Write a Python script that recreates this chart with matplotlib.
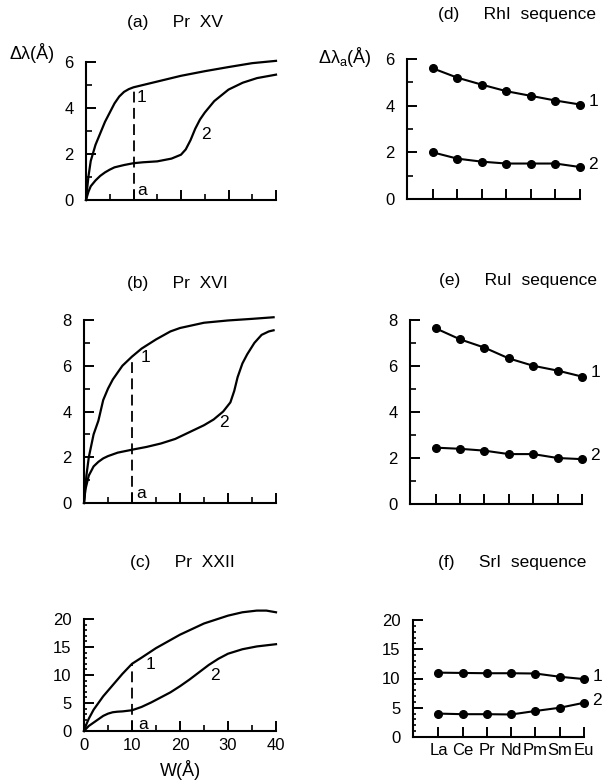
import numpy as np
import matplotlib
matplotlib.use("Agg")
import matplotlib.pyplot as plt
from matplotlib.ticker import MultipleLocator

plt.rcParams['font.family'] = ['Liberation Sans', 'DejaVu Sans']
plt.rcParams['font.size'] = 12

# ---- data: left column, delta lambda vs W ----
a1_w = [0, 0.5, 1, 2, 3, 4, 5, 6, 7, 8, 9, 10, 12, 15, 20, 25, 30, 35, 40]
a1_y = [0, 1.0, 1.7, 2.4, 2.9, 3.4, 3.8, 4.2, 4.5, 4.7, 4.82, 4.9, 5.0, 5.15, 5.4, 5.6, 5.78, 5.95, 6.05]
a2_w = [0, 0.5, 1, 2, 3, 4, 5, 6, 8, 10, 12, 15, 18, 20, 21, 22, 23, 24, 25, 27, 30, 33, 36, 40]
a2_y = [0, 0.35, 0.6, 0.85, 1.05, 1.2, 1.32, 1.42, 1.52, 1.6, 1.64, 1.68, 1.8, 1.97, 2.2, 2.6, 3.1, 3.5, 3.8, 4.3, 4.8, 5.1, 5.3, 5.45]

b1_w = [0, 0.5, 1, 2, 3, 4, 5, 6, 7, 8, 10, 12, 15, 18, 20, 25, 30, 35, 39.5]
b1_y = [0, 1.2, 2.0, 3.0, 3.6, 4.5, 5.0, 5.4, 5.7, 6.0, 6.4, 6.75, 7.15, 7.5, 7.65, 7.88, 7.98, 8.05, 8.12]
b2_w = [0, 0.3, 1, 2, 3, 4, 5, 7, 10, 13, 16, 19, 22, 25, 27, 29, 30.5, 31.3, 32, 33, 34, 35.5, 37, 38.5, 39.5]
b2_y = [0, 0.6, 1.2, 1.6, 1.8, 1.95, 2.05, 2.2, 2.33, 2.45, 2.6, 2.8, 3.1, 3.4, 3.65, 4.0, 4.4, 4.9, 5.5, 6.1, 6.5, 7.0, 7.35, 7.5, 7.55]

c1_w = [0, 0.5, 1, 2, 3, 4, 5, 6, 7, 8, 10, 12, 15, 20, 25, 30, 33, 36, 38, 40]
c1_y = [0, 1.2, 2.2, 3.8, 5.0, 6.2, 7.2, 8.2, 9.2, 10.2, 12.0, 13.1, 14.8, 17.2, 19.2, 20.6, 21.2, 21.5, 21.5, 21.2]
c2_w = [0, 1, 2, 3, 4, 5, 6, 7, 8, 10, 12, 14, 16, 18, 20, 22, 24, 26, 28, 30, 33, 36, 40]
c2_y = [0, 0.9, 1.5, 2.1, 2.7, 3.1, 3.35, 3.45, 3.5, 3.7, 4.3, 5.1, 6.0, 6.9, 8.0, 9.2, 10.5, 11.8, 12.9, 13.8, 14.6, 15.1, 15.5]

W_A = 10  # position of the "a" cut

# ---- data: right column, delta lambda_a along sequences ----
elements = ["La", "Ce", "Pr", "Nd", "Pm", "Sm", "Eu"]
rh1 = [5.6, 5.2, 4.9, 4.62, 4.42, 4.22, 4.05]
rh2 = [2.0, 1.73, 1.6, 1.52, 1.52, 1.52, 1.37]
ru1 = [7.64, 7.16, 6.8, 6.33, 6.01, 5.8, 5.54]
ru2 = [2.45, 2.4, 2.32, 2.17, 2.17, 2.0, 1.95]
sr1 = [11.0, 10.95, 10.9, 10.9, 10.85, 10.3, 9.9]
sr2 = [4.0, 3.9, 3.9, 3.85, 4.45, 5.0, 5.85]

W, H = 613, 784
fig = plt.figure(figsize=(W / 100, H / 100), dpi=100)


def box(l, r, t, b):
    return [l / W, 1 - b / H, (r - l) / W, (b - t) / H]


def style(ax, ymax, ymaj, ymin):
    for s in ['top', 'right']:
        ax.spines[s].set_visible(False)
    for s in ['left', 'bottom']:
        ax.spines[s].set_linewidth(1.5)
    ax.set_ylim(0, ymax)
    ax.yaxis.set_major_locator(MultipleLocator(ymaj))
    ax.yaxis.set_minor_locator(MultipleLocator(ymin))
    ax.tick_params(axis='y', which='major', direction='in', length=7.5, width=1.4, pad=9)
    ax.tick_params(axis='y', which='minor', direction='in', length=4.5, width=1.2)
    ax.tick_params(axis='x', which='major', direction='in', length=7.5, width=1.4, pad=5)
    ax.tick_params(axis='x', which='minor', direction='in', length=4.5, width=1.2)


def left_panel(rect, title, ty, c1, c2, ymax, ymaj, ymin, lab1, lab2, laba, show_x=False):
    ax = fig.add_axes(rect)
    style(ax, ymax, ymaj, ymin)
    ax.set_xlim(0, 40)
    ax.xaxis.set_major_locator(MultipleLocator(10))
    ax.xaxis.set_minor_locator(MultipleLocator(5))
    if not show_x:
        ax.set_xticklabels([])
    ax.plot(c1[0], c1[1], color='black', lw=1.6, clip_on=False)
    ax.plot(c2[0], c2[1], color='black', lw=1.6, clip_on=False)
    ya = c1[1][c1[0].index(W_A)]
    ax.plot([W_A, W_A], [0, ya], color='black', lw=1.3, dashes=(6, 3))
    ax.text(lab1[0], lab1[1], "1", fontsize=12.5, ha='center', va='center')
    ax.text(lab2[0], lab2[1], "2", fontsize=12.5, ha='center', va='center')
    ax.text(laba[0], laba[1], "a", fontsize=12.5, ha='center', va='center')
    fig.text(ty[0] / W, 1 - ty[1] / H, title, ha='center', va='center', fontsize=12.5)
    return ax


def right_panel(rect, title, ty, s1, s2, ymax, ymaj, ymin, show_x=False):
    ax = fig.add_axes(rect)
    style(ax, ymax, ymaj, ymin)
    x = np.arange(len(elements))
    ax.set_xlim(-1.05, len(elements) - 1)
    ax.set_xticks(x)
    if show_x:
        ax.set_xticklabels(elements, fontsize=12)
        ax.tick_params(axis='x', pad=4)
    else:
        ax.set_xticklabels([])
    ax.plot(x, s1, color='black', lw=1.5, marker='o', ms=5.5, clip_on=False)
    ax.plot(x, s2, color='black', lw=1.5, marker='o', ms=5.5, clip_on=False)
    ax.text(x[-1] + 0.35, s1[-1] + ymax * 0.02, "1", fontsize=12.5, ha='left', va='center')
    ax.text(x[-1] + 0.35, s2[-1] + ymax * 0.02, "2", fontsize=12.5, ha='left', va='center')
    fig.text(ty[0] / W, 1 - ty[1] / H, title, ha='center', va='center', fontsize=12.5)
    return ax


left_panel(box(86, 276, 62, 200), "(a)     Pr  XV", (175, 22), (a1_w, a1_y), (a2_w, a2_y),
           6, 2, 1, (11.7, 4.45), (25.2, 2.85), (11.8, 0.4))
left_panel(box(84, 276, 320, 503), "(b)     Pr  XVI", (177, 283), (b1_w, b1_y), (b2_w, b2_y),
           8, 2, 1, (12.8, 6.35), (29.2, 3.5), (12.0, 0.4))
axc = left_panel(box(84, 276, 619, 731), "(c)     Pr  XXII", (182, 563), (c1_w, c1_y), (c2_w, c2_y),
                 20, 5, 1, (13.9, 11.9), (27.3, 9.9), (12.4, 1.2), show_x=True)
axc.tick_params(axis='y', which='minor', length=2.5)
axc.set_xlabel("W(Å)", fontsize=13, labelpad=5)

fig.text(10 / W, 1 - 53 / H, "Δλ(Å)", fontsize=13, ha='left', va='center')
fig.text(318 / W, 1 - 57 / H, "Δλ$_{\\mathregular{a}}$(Å)", fontsize=13, ha='left', va='center')

right_panel(box(407, 580, 59, 199), "(d)     RhI  sequence", (517, 15), rh1, rh2, 6, 2, 1)
right_panel(box(410, 582, 320, 504), "(e)     RuI  sequence", (518, 280), ru1, ru2, 8, 2, 1)
axf = right_panel(box(413, 584, 620, 737), "(f)     SrI  sequence", (512, 562), sr1, sr2, 20, 5, 1, show_x=True)
axf.tick_params(axis='y', which='minor', length=2.5)

fig.savefig("out.png", dpi=100)
